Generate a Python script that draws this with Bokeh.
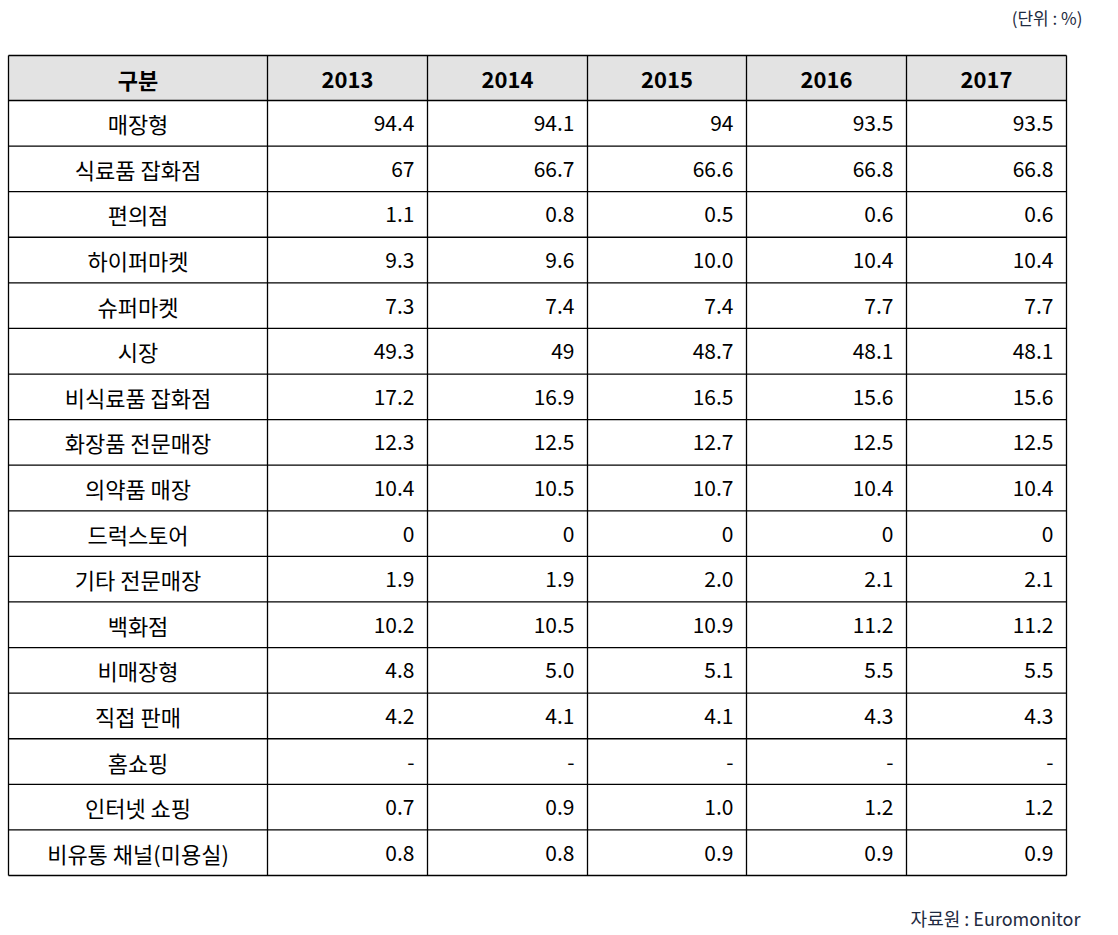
from bokeh.plotting import figure
from bokeh.models import Range1d, ColumnDataSource
from bokeh.core.properties import value
from bokeh.embed import file_html
from bokeh.resources import INLINE

# ---- data ----
header_label = "구분"
years = ["2013", "2014", "2015", "2016", "2017"]
categories = ["매장형", "식료품 잡화점", "편의점", "하이퍼마켓", "슈퍼마켓", "시장",
              "비식료품 잡화점", "화장품 전문매장", "의약품 매장", "드럭스토어",
              "기타 전문매장", "백화점", "비매장형", "직접 판매", "홈쇼핑",
              "인터넷 쇼핑", "비유통 채널(미용실)"]
v2013 = ["94.4", "67", "1.1", "9.3", "7.3", "49.3", "17.2", "12.3", "10.4", "0", "1.9", "10.2", "4.8", "4.2", "-", "0.7", "0.8"]
v2014 = ["94.1", "66.7", "0.8", "9.6", "7.4", "49", "16.9", "12.5", "10.5", "0", "1.9", "10.5", "5.0", "4.1", "-", "0.9", "0.8"]
v2015 = ["94", "66.6", "0.5", "10.0", "7.4", "48.7", "16.5", "12.7", "10.7", "0", "2.0", "10.9", "5.1", "4.1", "-", "1.0", "0.9"]
v2016 = ["93.5", "66.8", "0.6", "10.4", "7.7", "48.1", "15.6", "12.5", "10.4", "0", "2.1", "11.2", "5.5", "4.3", "-", "1.2", "0.9"]
v2017 = ["93.5", "66.8", "0.6", "10.4", "7.7", "48.1", "15.6", "12.5", "10.4", "0", "2.1", "11.2", "5.5", "4.3", "-", "1.2", "0.9"]
unit_text = "(단위 : %)"
source_text = "자료원 : Euromonitor"

series = [v2013, v2014, v2015, v2016, v2017]

# ---- layout ----
W, H = 1118, 935
col_edges = [8, 267, 427, 587, 746, 906, 1066]
top, header_bottom, bottom = 55, 100, 875
n = len(categories)
row_h = (bottom - header_bottom) / n
row_edges = [header_bottom + i * row_h for i in range(n + 1)]

FONT = "Noto Sans CJK KR"

p = figure(width=W, height=H, output_backend="svg", toolbar_location=None,
           x_range=Range1d(0, W), y_range=Range1d(H, 0),
           min_border=0, min_border_left=0, min_border_right=0,
           min_border_top=0, min_border_bottom=0)
p.axis.visible = False
p.grid.visible = False
p.outline_line_color = None
p.background_fill_color = "white"
p.border_fill_color = "white"

# header background
p.quad(left=[col_edges[0]], right=[col_edges[-1]], top=[top], bottom=[header_bottom],
       fill_color="#e3e3e3", line_color=None)

# grid lines
hy = [top] + row_edges
p.segment(x0=[col_edges[0]] * len(hy), x1=[col_edges[-1]] * len(hy), y0=hy, y1=hy,
          line_color="black", line_width=1.3)
p.segment(x0=col_edges, x1=col_edges, y0=[top] * len(col_edges), y1=[bottom] * len(col_edges),
          line_color="black", line_width=1.3)

# header text
hx = [(col_edges[i] + col_edges[i + 1]) / 2 for i in range(len(col_edges) - 1)]
hy_c = (top + header_bottom) / 2 + 1
p.text(x=hx, y=[hy_c] * len(hx), text=[header_label] + years,
       text_font=value(FONT), text_font_size="22px", text_font_style="bold",
       text_align="center", text_baseline="middle", text_color="black")

# category labels
rc = [(row_edges[i] + row_edges[i + 1]) / 2 for i in range(n)]
cx = (col_edges[0] + col_edges[1]) / 2
p.text(x=[cx] * n, y=rc, text=categories,
       text_font=value(FONT), text_font_size="22px",
       text_align="center", text_baseline="middle", text_color="black")

# values (right aligned)
for j, vals in enumerate(series):
    xr = col_edges[j + 2] - 13
    src = ColumnDataSource(dict(x=[xr] * n, y=rc, t=vals))
    p.text(x="x", y="y", text="t", source=src,
           text_font=value(FONT), text_font_size="21px",
           text_align="right", text_baseline="middle", text_color="black")

# unit and source notes
p.text(x=[1082], y=[17], text=[unit_text], text_font=value(FONT), text_font_size="17px",
       text_align="right", text_baseline="middle", text_color="#1e2a40")
p.text(x=[1080], y=[917], text=[source_text], text_font=value(FONT), text_font_size="18px",
       text_align="right", text_baseline="middle", text_color="#1e2a40")

open("out.html", "w").write(file_html(p, INLINE))
